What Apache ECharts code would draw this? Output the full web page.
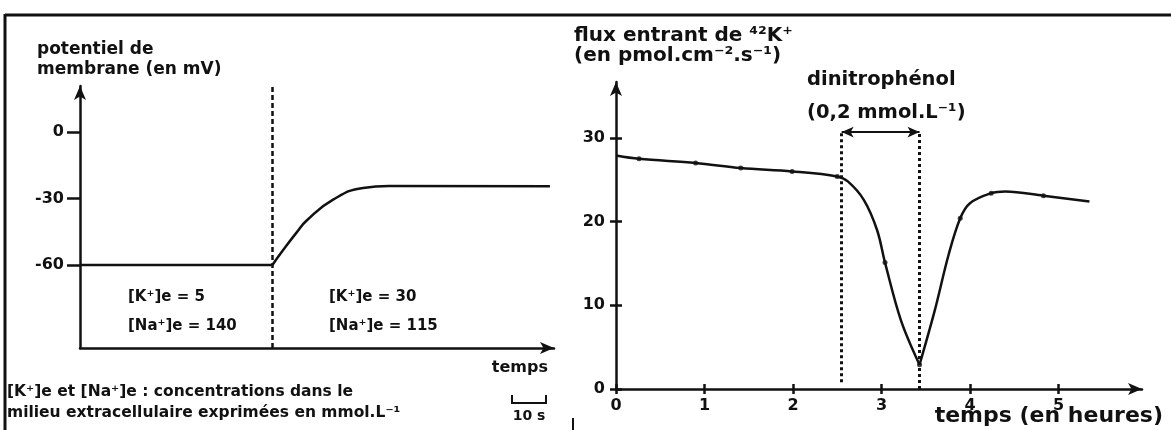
<!DOCTYPE html>
<html><head><meta charset="utf-8">
<script src="https://cdn.jsdelivr.net/npm/echarts@6/dist/echarts.min.js"></script>
<style>html,body{margin:0;padding:0;background:#fff}#c{width:1171px;height:430px}</style>
</head><body><div id="c"></div>
<script>
// ---------- Left chart : membrane potential (mV) vs time (s) ----------
const leftSwitchTime = 52;                 // change of extracellular medium (s)
const leftTimeBefore = [0, 52];
const leftVBefore    = [-60, -60];
const leftTimeAfter  = [52, 54.3, 58.4, 61.4, 68.4, 76.5, 83.5, 127];
const leftVAfter     = [-60, -54.6, -45.6, -39.7, -30.5, -25.2, -24.3, -24.5];
const leftYTicks     = [0, -30, -60];

// ---------- Right chart : 42K+ influx vs time (h) ----------
const descentHours  = [0, 0.26, 0.9, 1.41, 1.99, 2.5, 2.62, 2.8, 2.95, 3.04, 3.22, 3.43];
const descentFlux   = [27.9, 27.5, 27.0, 26.4, 26.0, 25.4, 24.8, 22.6, 19.0, 15.1, 8.2, 2.9];
const recoveryHours = [3.43, 3.6, 3.76, 3.89, 4.0, 4.24, 4.4, 4.83, 5.35];
const recoveryFlux  = [2.9, 9.3, 16.1, 20.4, 22.2, 23.4, 23.6, 23.1, 22.4];
const measuredHours = [0.26, 0.9, 1.41, 1.99, 2.5, 3.04, 3.43, 3.89, 4.24, 4.83];
const measuredFlux  = [27.5, 27.0, 26.4, 26.0, 25.4, 15.1, 2.9, 20.4, 23.4, 23.1];
const rightXTicks = [0, 1, 2, 3, 4, 5];
const rightYTicks = [0, 10, 20, 30];
const dnpStart = 2.55, dnpEnd = 3.43, dnpLevel = 30.7;   // dinitrophénol application

const zip = (a, b) => a.map((v, i) => [v, b[i]]);
const INK = '#111';
const FF = 'DejaVu Sans';
const txt = (x, y, text, size, align) => ({
  type: 'text', x: x, y: y, silent: true,
  style: { text: text, fill: INK, fontFamily: FF, fontWeight: 'bold', fontSize: size,
    textAlign: align || 'left', align: align || 'left', textVerticalAlign: 'middle', verticalAlign: 'middle' }
});
const seg = (pts, w) => ({ type: 'polyline', silent: true, shape: { points: pts }, style: { stroke: INK, lineWidth: w, fill: null } });

const chart = echarts.init(document.getElementById('c'), null, { renderer: 'canvas' });
const axisLineStyle = { color: INK, width: 2.5 };
const labelStyle = { color: INK, fontFamily: FF, fontWeight: 'bold', fontSize: 16 };
const curveStyle = { color: INK, width: 2.5 };

chart.setOption({
  animation: false,
  backgroundColor: '#fff',
  grid: [
    { left: 80, top: 86, width: 474, height: 262 },
    { left: 616, top: 82, width: 526, height: 307 }
  ],
  xAxis: [
    { type: 'value', gridIndex: 0, min: 0, max: 128.1, position: 'bottom',
      axisLine: { onZero: false, lineStyle: axisLineStyle, symbol: ['none', 'arrow'], symbolSize: [9, 14] },
      axisTick: { show: false }, axisLabel: { show: false }, splitLine: { show: false } },
    { type: 'value', gridIndex: 1, min: 0, max: 5.944, position: 'bottom',
      axisLine: { onZero: false, lineStyle: axisLineStyle, symbol: ['none', 'arrow'], symbolSize: [9, 14] },
      axisTick: { show: true, length: 5, lineStyle: { color: INK, width: 2.5 }, customValues: rightXTicks },
      axisLabel: Object.assign({ margin: 9, customValues: rightXTicks }, labelStyle),
      splitLine: { show: false } },
    { type: 'value', gridIndex: 1, min: 0, max: 5.944, position: 'bottom',
      axisLine: { show: false, onZero: false },
      axisTick: { show: true, inside: true, length: 5, lineStyle: { color: INK, width: 2.5 }, customValues: rightXTicks },
      axisLabel: { show: false }, splitLine: { show: false } }
  ],
  yAxis: [
    { type: 'value', gridIndex: 0, min: -97.4, max: 20.75, position: 'left',
      axisLine: { onZero: false, lineStyle: axisLineStyle, symbol: ['none', 'arrow'], symbolSize: [9, 14] },
      axisTick: { show: true, length: 13, lineStyle: { color: INK, width: 2.5 }, customValues: leftYTicks },
      axisLabel: Object.assign({ margin: 16, customValues: leftYTicks }, labelStyle),
      splitLine: { show: false } },
    { type: 'value', gridIndex: 1, min: 0, max: 36.68, position: 'left',
      axisLine: { onZero: false, lineStyle: axisLineStyle, symbol: ['none', 'arrow'], symbolSize: [9, 14] },
      axisTick: { show: true, length: 6, lineStyle: { color: INK, width: 2.5 }, customValues: rightYTicks },
      axisLabel: Object.assign({ margin: 11, customValues: rightYTicks }, labelStyle),
      splitLine: { show: false } },
    { type: 'value', gridIndex: 1, min: 0, max: 36.68, position: 'left',
      axisLine: { show: false, onZero: false },
      axisTick: { show: true, inside: true, length: 6, lineStyle: { color: INK, width: 2.5 }, customValues: rightYTicks },
      axisLabel: { show: false }, splitLine: { show: false } }
  ],
  series: [
    { type: 'line', xAxisIndex: 0, yAxisIndex: 0, data: zip(leftTimeBefore, leftVBefore),
      symbol: 'none', lineStyle: curveStyle,
      markLine: { silent: true, symbol: ['none', 'none'], label: { show: false },
        lineStyle: { color: INK, width: 2.5, type: [5, 3] },
        data: [[{ coord: [leftSwitchTime, -97.4] }, { coord: [leftSwitchTime, 20.3] }]] } },
    { type: 'line', xAxisIndex: 0, yAxisIndex: 0, data: zip(leftTimeAfter, leftVAfter), smooth: 0.5,
      symbol: 'none', lineStyle: curveStyle },
    { type: 'line', xAxisIndex: 1, yAxisIndex: 1, data: zip(descentHours, descentFlux), smooth: 0.35,
      symbol: 'none', lineStyle: curveStyle,
      markLine: { silent: true, symbol: ['none', 'none'], label: { show: false },
        lineStyle: { color: INK, width: 3, type: [3, 3] },
        data: [
          [{ coord: [dnpStart, 0.8] }, { coord: [dnpStart, dnpLevel] }],
          [{ coord: [dnpEnd, 0] }, { coord: [dnpEnd, dnpLevel] }],
          [{ coord: [dnpStart, dnpLevel], symbol: 'arrow', symbolSize: [8, 12], lineStyle: { type: 'solid', width: 2 } },
           { coord: [dnpEnd, dnpLevel], symbol: 'arrow', symbolSize: [8, 12] }]
        ] } },
    { type: 'line', xAxisIndex: 1, yAxisIndex: 1, data: zip(recoveryHours, recoveryFlux), smooth: 0.35,
      symbol: 'none', lineStyle: curveStyle },
    { type: 'scatter', xAxisIndex: 1, yAxisIndex: 1, data: zip(measuredHours, measuredFlux),
      symbol: 'circle', symbolSize: 5, itemStyle: { color: INK } }
  ],
  graphic: [
    // frame
    seg([[5, 15], [1171, 15]], 3),
    seg([[5, 14], [5, 430]], 3),
    seg([[573, 418], [573, 430]], 2),
    // left chart texts
    txt(37, 50, 'potentiel de', 17),
    txt(37, 70, 'membrane (en mV)', 17),
    txt(128, 297, '[K⁺]e = 5', 15),
    txt(128, 326, '[Na⁺]e = 140', 15),
    txt(329, 297, '[K⁺]e = 30', 15),
    txt(329, 326, '[Na⁺]e = 115', 15),
    txt(548, 368, 'temps', 16, 'right'),
    txt(7, 392, '[K⁺]e et [Na⁺]e : concentrations dans le', 15.5),
    txt(7, 413, 'milieu extracellulaire exprimées en mmol.L⁻¹', 15.5),
    seg([[512, 395], [512, 403], [546, 403], [546, 395]], 2),
    txt(529, 416, '10 s', 14, 'center'),
    // right chart texts
    txt(574, 36, 'flux entrant de ⁴²K⁺', 20),
    txt(574, 56, '(en pmol.cm⁻².s⁻¹)', 20),
    txt(807, 80, 'dinitrophénol', 19.5),
    txt(807, 113, '(0,2 mmol.L⁻¹)', 19.5),
    txt(1163, 416, 'temps (en heures)', 22, 'right')
  ]
});
</script></body></html>
